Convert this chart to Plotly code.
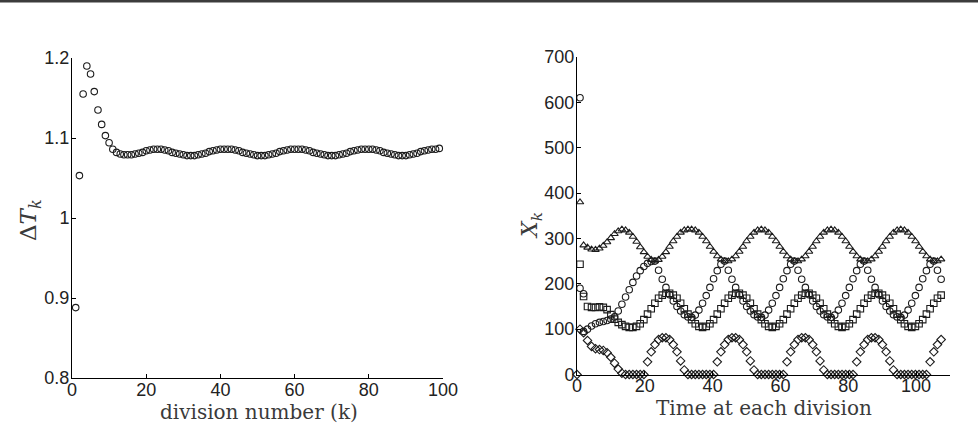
import numpy as np
import plotly.graph_objects as go

# ---------------- data ----------------
division_k = list(range(1, 100))
delta_T = [0.888, 1.053, 1.155, 1.190, 1.180, 1.158, 1.135, 1.117, 1.103, 1.094,
           1.086, 1.082, 1.080, 1.079, 1.079, 1.079, 1.080, 1.081, 1.082, 1.084,
           1.085, 1.086, 1.086, 1.086, 1.085, 1.084, 1.082, 1.081, 1.080, 1.079,
           1.078, 1.078, 1.078, 1.079, 1.080, 1.081, 1.083, 1.084, 1.085, 1.086,
           1.086, 1.086, 1.086, 1.085, 1.084, 1.082, 1.081, 1.080, 1.079, 1.078,
           1.078, 1.078, 1.079, 1.080, 1.081, 1.083, 1.084, 1.085, 1.086, 1.086,
           1.086, 1.086, 1.085, 1.084, 1.082, 1.081, 1.080, 1.079, 1.078, 1.078,
           1.078, 1.079, 1.080, 1.081, 1.083, 1.084, 1.085, 1.086, 1.086, 1.086,
           1.086, 1.085, 1.084, 1.082, 1.081, 1.080, 1.079, 1.078, 1.078, 1.078,
           1.079, 1.080, 1.081, 1.083, 1.084, 1.085, 1.086, 1.086, 1.087]

N = None
# X_k series, index k = 0..99 (plotted at the time of division k)
x_triangle = [N, 380, 285, 280, 276, 275, 278, 284, 292, 301,
              310, 316, 320, 318, 313, 304, 293, 281, 270, 260,
              253, 250, 253, 260, 270, 282, 294, 304, 313, 318,
              320, 320, 318, 313, 304, 294, 282, 271, 261, 254,
              250, 250, 254, 261, 271, 282, 294, 304, 313, 318,
              320, 318, 313, 304, 294, 282, 271, 261, 254, 250,
              250, 254, 261, 271, 282, 294, 304, 313, 318, 320,
              318, 313, 304, 294, 282, 271, 261, 254, 250, 250,
              254, 261, 271, 282, 294, 304, 313, 318, 320, 318,
              313, 304, 294, 282, 271, 261, 254, 250, 250, 254]

x_circle = [N, 610, 95, 100, 107, 112, 115, 117, 119, 122,
            127, 140, 155, 171, 187, 203, 217, 229, 238, 245,
            249, 250, 230, 210, 192, 176, 162, 150, 140, 132,
            127, 126, 131, 142, 157, 174, 192, 211, 229, 243,
            250, 230, 210, 192, 176, 162, 150, 140, 132, 127,
            126, 131, 142, 157, 174, 192, 211, 229, 243, 250,
            230, 210, 192, 176, 162, 150, 140, 132, 127, 126,
            131, 142, 157, 174, 192, 211, 229, 243, 250, 230,
            210, 192, 176, 162, 150, 140, 132, 127, 126, 131,
            142, 157, 174, 192, 211, 229, 243, 250, 230, 210]

x_square = [N, 243, 172, 150, 148, 148, 149, 148, 143, 132,
            122, 115, 110, 106, 104, 104, 106, 112, 121, 133,
            145, 157, 168, 175, 179, 179, 175, 168, 157, 145,
            133, 121, 112, 106, 104, 106, 112, 121, 133, 145,
            157, 168, 175, 179, 179, 175, 168, 157, 145, 133,
            121, 112, 106, 104, 106, 112, 121, 133, 145, 157,
            168, 175, 179, 179, 175, 168, 157, 145, 133, 121,
            112, 106, 104, 106, 112, 121, 133, 145, 157, 168,
            175, 179, 179, 175, 168, 157, 145, 133, 121, 112,
            106, 104, 106, 112, 121, 133, 145, 157, 168, 175]

x_diamond = [0, 100, 92, 75, 62, 57, 55, 53, 48, 38,
             25, 12, 3, 0, 0, 0, 0, 0, 0, 28,
             50, 66, 77, 81, 81, 77, 66, 50, 30, 10,
             0, 0, 0, 0, 0, 0, 0, 0, 28, 50,
             66, 77, 81, 81, 77, 66, 50, 30, 10, 0,
             0, 0, 0, 0, 0, 0, 0, 28, 50, 66,
             77, 81, 81, 77, 66, 50, 30, 10, 0, 0,
             0, 0, 0, 0, 0, 0, 28, 50, 66, 77,
             81, 81, 77, 66, 50, 30, 10, 0, 0, 0,
             0, 0, 0, 0, 0, 0, 28, 50, 66, 77]

x_extra = [N, 190, 178] + [N] * 97

left_yticks = [0.8, 0.9, 1.0, 1.1, 1.2]
left_yticktext = ["0.8", "0.9", "1", "1.1", "1.2"]
left_xticks = [0, 20, 40, 60, 80, 100]
right_xticks = [0, 20, 40, 60, 80, 100]
right_yticks = [0, 100, 200, 300, 400, 500, 600, 700]

# division times
T = np.concatenate([[0.0], np.cumsum(delta_T)])

# ---------------- figure ----------------
W, H = 978, 426
INK = "#1c1c1c"

def mk(symbol, size=6.5):
    return dict(symbol=symbol, size=size, color=INK, line=dict(width=1.1, color=INK))

fig = go.Figure()
fig.add_trace(go.Scatter(x=division_k, y=delta_T, mode="markers", marker=mk("circle-open"),
                         xaxis="x", yaxis="y", cliponaxis=False, showlegend=False))

for series, sym in [(x_diamond, "diamond-open"), (x_square, "square-open"),
                    (x_circle, "circle-open"), (x_triangle, "triangle-up-open"),
                    (x_extra, "circle-open")]:
    fig.add_trace(go.Scatter(x=T, y=series, mode="markers", marker=mk(sym),
                             xaxis="x2", yaxis="y2", cliponaxis=False, showlegend=False))

tickfont = dict(family="Liberation Sans, Arial, sans-serif", size=18, color="#222")
common = dict(showline=True, linecolor="black", linewidth=1, ticks="inside", ticklen=4,
              tickwidth=1, tickcolor="black", showgrid=False, zeroline=False,
              tickfont=tickfont, automargin=False, mirror=False)

fig.update_layout(
    width=W, height=H, margin=dict(l=0, r=0, t=0, b=0),
    paper_bgcolor="white", plot_bgcolor="white", template="none",
    xaxis=dict(domain=[72 / W, 443 / W], range=[0, 100], tickvals=left_xticks,
               anchor="y", ticklabelstandoff=-5, **common),
    yaxis=dict(domain=[1 - 378 / H, 1 - 58 / H], range=[0.8, 1.2], tickvals=left_yticks,
               ticktext=left_yticktext, anchor="x", ticklabelstandoff=-2, **common),
    xaxis2=dict(domain=[577 / W, 950 / W], range=[0, 110], tickvals=right_xticks,
                anchor="y2", ticklabelstandoff=-5, **common),
    yaxis2=dict(domain=[1 - 374.5 / H, 1 - 57 / H], range=[0, 700], tickvals=right_yticks,
                anchor="x2", ticklabelstandoff=-2, **common),
)

title_font = dict(family="DejaVu Serif, Liberation Serif, serif", size=20, color="#3a3a3a")
ann = [
    dict(text="division number (k)", x=259 / W, y=1 - 412 / H, size=20),
    dict(text="Time at each division", x=764 / W, y=1 - 408 / H, size=20),
    dict(text="Δ<i>T</i><sub><i>k</i></sub>", x=30 / W, y=1 - 220 / H, textangle=-90, size=23),
    dict(text="<i>X</i><sub><i>k</i></sub>", x=531 / W, y=1 - 226 / H, textangle=-90, size=22),
]
for a in ann:
    size = a.pop("size")
    fig.add_annotation(xref="paper", yref="paper", showarrow=False,
                       font=dict(title_font, size=size),
                       xanchor="center", yanchor="middle", **a)

# thin frame line along the top edge
fig.add_shape(type="rect", xref="paper", yref="paper", x0=0, x1=1, y0=1 - 2.5 / H, y1=1,
              fillcolor="#3c3c3c", line=dict(width=0), layer="above")

fig.write_html("out.html")
